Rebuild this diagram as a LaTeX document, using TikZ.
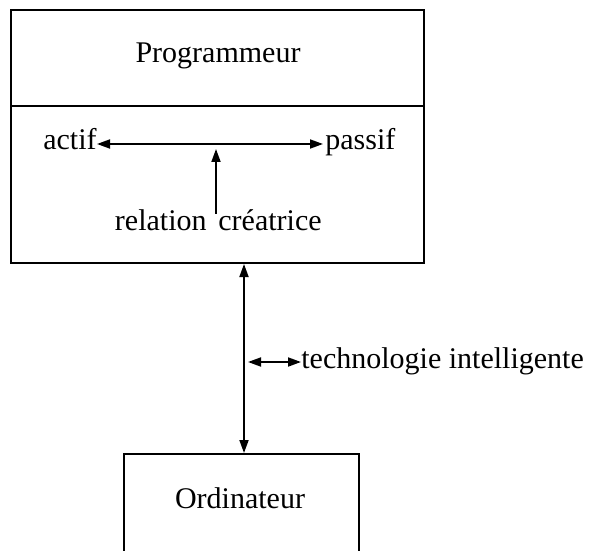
\documentclass[tikz,border=0pt]{standalone}
\usepackage{fontspec}
\setmainfont{Liberation Serif}
\usetikzlibrary{arrows.meta}
\begin{document}
\begin{tikzpicture}[x=0.5pt,y=-0.5pt,
  txt/.style={inner sep=0pt,font=\fontsize{15}{18}\selectfont},
  box/.style={draw,line width=0.9pt},
  arr/.style={line width=0.9pt,-{Triangle[length=6.5pt,width=4.5pt]}},
  darr/.style={line width=0.9pt,{Triangle[length=6.5pt,width=4.5pt]}-{Triangle[length=6.5pt,width=4.5pt]}}]
\useasboundingbox (0,0) rectangle (592,550);
\clip (0,0) rectangle (592,550);
% top box
\node[box,inner sep=0pt,minimum width=206.5pt,minimum height=126.5pt] (prog) at (217.5,136.5) {};
\coordinate (dl) at (11,106);
\coordinate (dr) at (424,106);
\draw[line width=0.9pt] (dl) -- (dr);
\node[txt,anchor=base] (ptitle) at (218,63) {Programmeur};
\node[txt,anchor=base east] (actif) at (97,150) {actif};
\node[txt,anchor=base west] (passif) at (325,150) {passif};
\coordinate (h) at (0,144);
\draw[darr] (actif.east |- h) -- ([xshift=-1pt]passif.west |- h);
\node[txt,anchor=base east] (rel) at (207,230) {relation};
\node[txt,anchor=base west] (crea) at (218,230) {créatrice};
\coordinate (rcb) at (216,214);
\coordinate (rct) at (216,149);
\draw[arr] (rcb) -- (rct);
% bottom box
\coordinate (o1) at (124,560);
\coordinate (o2) at (124,454);
\coordinate (o3) at (359,454);
\coordinate (o4) at (359,560);
\draw[line width=0.9pt] (o1) -- (o2) -- (o3) -- (o4);
\node[txt,anchor=base] (ord) at (240,508) {Ordinateur};
% connector
\coordinate (ct) at (244,264);
\coordinate (cb) at (244,453);
\draw[darr] (ct) -- (cb);
\node[txt,anchor=base west] (tech) at (301,368) {technologie intelligente};
\coordinate (ts) at (248,362);
\draw[darr] (ts) -- (tech.west |- ts);
\end{tikzpicture}
\end{document}
